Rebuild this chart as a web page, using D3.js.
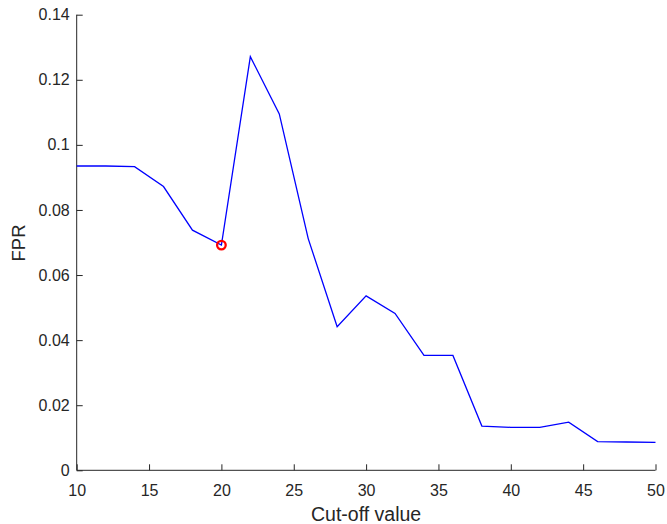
<!DOCTYPE html>
<html>
<head>
<meta charset="utf-8">
<script src="https://cdn.jsdelivr.net/npm/d3@7"></script>
<style>
  html, body { margin: 0; padding: 0; background: #fff; }
  svg { display: block; }
  text { font-family: "Liberation Sans", Arial, Helvetica, sans-serif; fill: #262626; }
</style>
</head>
<body>
<svg id="chart" width="667" height="524"></svg>
<script>
const cutoff = [10, 12, 14, 16, 18, 20, 22, 24, 26, 28, 30, 32, 34, 36, 38, 40, 42, 44, 46, 48, 50];
const fpr = [0.0935, 0.0935, 0.0933, 0.0872, 0.0738, 0.0692, 0.1271, 0.1095, 0.0712, 0.0441,
             0.0536, 0.0482, 0.0353, 0.0353, 0.0136, 0.0132, 0.0132, 0.0148, 0.0088, 0.0087, 0.0086];
const selectedCutoff = [20];
const selectedFpr = [0.0692];
const xTicks = [10, 15, 20, 25, 30, 35, 40, 45, 50];
const yTicks = [0, 0.02, 0.04, 0.06, 0.08, 0.1, 0.12, 0.14];
const xLabel = "Cut-off value";
const yLabel = "FPR";

const svg = d3.select("#chart");
const mLeft = 76.7, mRight = 655.5, mTop = 14.7, mBottom = 470.3;

const x = d3.scaleLinear().domain([10, 50]).range([mLeft, mRight]);
const y = d3.scaleLinear().domain([0, 0.14]).range([mBottom, mTop]);

const axisColor = "#262626";

const xAxis = d3.axisBottom(x).tickValues(xTicks).tickSize(-6).tickPadding(14).tickFormat(d3.format("d"));
const gx = svg.append("g").attr("transform", `translate(0,${mBottom})`).call(xAxis);
gx.select(".domain").attr("stroke", axisColor).attr("stroke-width", 1).attr("d", `M${mLeft},0H${mRight}`);
gx.selectAll(".tick line").attr("stroke", axisColor);
gx.selectAll(".tick text").attr("font-size", 16).attr("fill", axisColor)
  .style("font-family", '"Liberation Sans", Arial, sans-serif');

const yAxis = d3.axisLeft(y).tickValues(yTicks).tickSize(-6).tickPadding(7).tickFormat(d => d === 0 ? "0" : String(+d.toFixed(2)));
const gy = svg.append("g").attr("transform", `translate(${mLeft},0)`).call(yAxis);
gy.select(".domain").attr("stroke", axisColor).attr("stroke-width", 1).attr("d", `M0,${mBottom}V${mTop}`);
gy.selectAll(".tick line").attr("stroke", axisColor);
gy.selectAll(".tick text").attr("font-size", 16).attr("fill", axisColor)
  .style("font-family", '"Liberation Sans", Arial, sans-serif');

const line = d3.line().x((d, i) => x(cutoff[i])).y(d => y(d));
svg.append("path").datum(fpr)
  .attr("d", line)
  .attr("fill", "none")
  .attr("stroke", "#0000ff")
  .attr("stroke-width", 1.3)
  .attr("stroke-linejoin", "miter");

svg.selectAll("circle.sel").data(selectedFpr).enter().append("circle")
  .attr("class", "sel")
  .attr("cx", (d, i) => x(selectedCutoff[i]))
  .attr("cy", d => y(d))
  .attr("r", 4.3)
  .attr("fill", "none")
  .attr("stroke", "#ff0000")
  .attr("stroke-width", 2.3);

svg.append("text")
  .attr("x", (mLeft + mRight) / 2)
  .attr("y", 520.5)
  .attr("text-anchor", "middle")
  .attr("font-size", 19.5)
  .text(xLabel);

svg.append("text")
  .attr("transform", `translate(25,243) rotate(-90)`)
  .attr("text-anchor", "middle")
  .attr("font-size", 18.5)
  .text(yLabel);
</script>
</body>
</html>
